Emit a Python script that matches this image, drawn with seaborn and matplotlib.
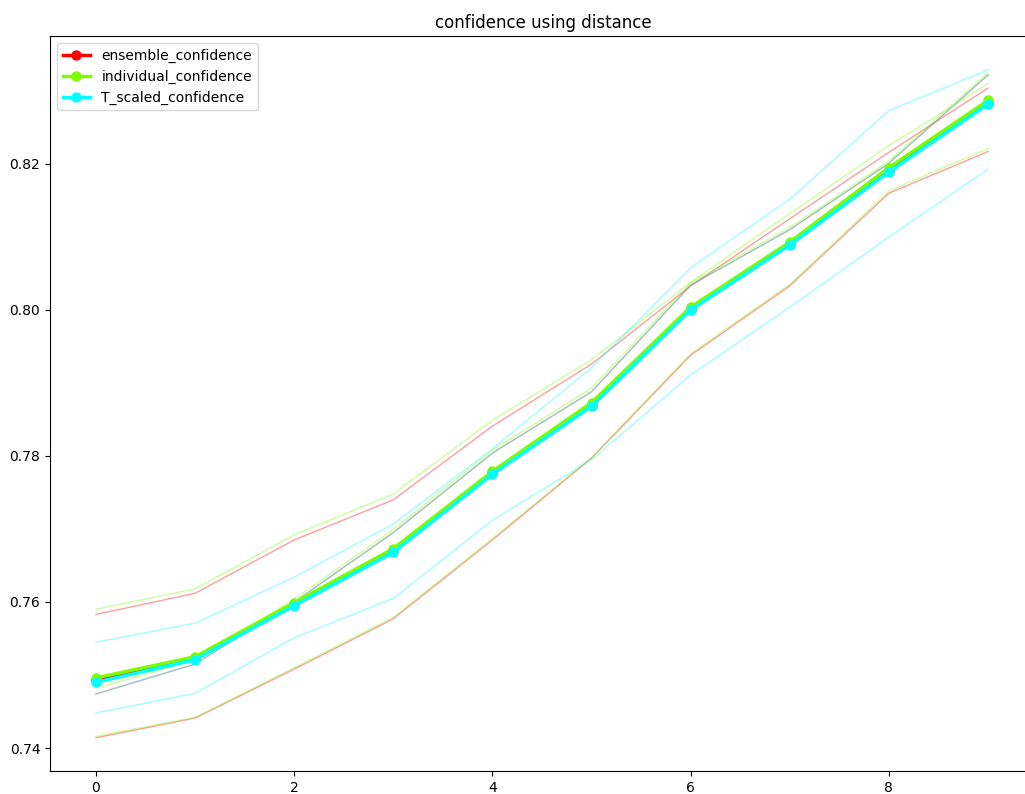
import numpy as np
import pandas as pd
import matplotlib
matplotlib.use("Agg")
import matplotlib.pyplot as plt
import seaborn as sns

steps = list(range(10))

ensemble_confidence = [0.7493, 0.7523, 0.7597, 0.7671, 0.7777, 0.7871, 0.8002, 0.8091, 0.8192, 0.8284]
individual_confidence = [0.7496, 0.7525, 0.7599, 0.7673, 0.7779, 0.7873, 0.8004, 0.8093, 0.8195, 0.8287]
T_scaled_confidence = [0.7490, 0.7521, 0.7595, 0.7668, 0.7775, 0.7868, 0.8000, 0.8089, 0.8189, 0.8282]

ensemble_upper = [0.7583, 0.7612, 0.7685, 0.7740, 0.7841, 0.7926, 0.8033, 0.8125, 0.8216, 0.8304]
ensemble_lower = [0.7414, 0.7441, 0.7508, 0.7577, 0.7685, 0.7797, 0.7938, 0.8033, 0.8160, 0.8217]
ensemble_mid = [0.7474, 0.7515, 0.7600, 0.7695, 0.7804, 0.7888, 0.8034, 0.8110, 0.8201, 0.8322]
individual_upper = [0.7590, 0.7618, 0.7692, 0.7748, 0.7849, 0.7932, 0.8038, 0.8132, 0.8225, 0.8310]
individual_lower = [0.7416, 0.7442, 0.7510, 0.7579, 0.7687, 0.7798, 0.7940, 0.8035, 0.8163, 0.8221]
individual_mid = [0.7482, 0.7520, 0.7604, 0.7699, 0.7808, 0.7893, 0.8037, 0.8113, 0.8204, 0.8325]
T_scaled_upper = [0.7545, 0.7571, 0.7634, 0.7707, 0.7810, 0.7921, 0.8058, 0.8152, 0.8273, 0.8329]
T_scaled_lower = [0.7448, 0.7475, 0.7551, 0.7605, 0.7712, 0.7795, 0.7911, 0.8004, 0.8100, 0.8193]
T_scaled_mid = [0.7474, 0.7515, 0.7600, 0.7695, 0.7804, 0.7888, 0.8034, 0.8110, 0.8201, 0.8322]

series = [
    ("ensemble_confidence", ensemble_confidence, [ensemble_upper, ensemble_lower, ensemble_mid], "red"),
    ("individual_confidence", individual_confidence, [individual_upper, individual_lower, individual_mid], "lawngreen"),
    ("T_scaled_confidence", T_scaled_confidence, [T_scaled_upper, T_scaled_lower, T_scaled_mid], "cyan"),
]

fig = plt.figure(figsize=(10.25, 7.94), dpi=100)
ax = fig.add_axes([50 / 1025, 23 / 794, 1100 / 1025, 735 / 794])

for name, vals, thin, color in series:
    for t in thin:
        sns.lineplot(x=steps, y=t, ax=ax, color=color, alpha=0.38, linewidth=1, legend=False)

for name, vals, thin, color in series:
    df = pd.DataFrame({"step": steps, "value": vals})
    sns.lineplot(data=df, x="step", y="value", ax=ax, color=color, linewidth=2.5,
                 marker="o", markersize=7.5, markeredgewidth=0, label=name)

ax.set_xlim(-0.464, 9 + (1150 - 988) / 99.11)
ax.set_ylim(0.73685, 0.83753)
ax.set_xticks([0, 2, 4, 6, 8])
ax.set_yticks([0.74, 0.76, 0.78, 0.80, 0.82])
ax.set_yticklabels(["0.74", "0.76", "0.78", "0.80", "0.82"])
ax.set_xlabel("")
ax.set_ylabel("")
ax.set_title("confidence using distance", fontsize=12, x=(543 - 50) / 1100)
ax.legend(loc="upper left", fontsize=10)

fig.savefig("out.png", dpi=100)
